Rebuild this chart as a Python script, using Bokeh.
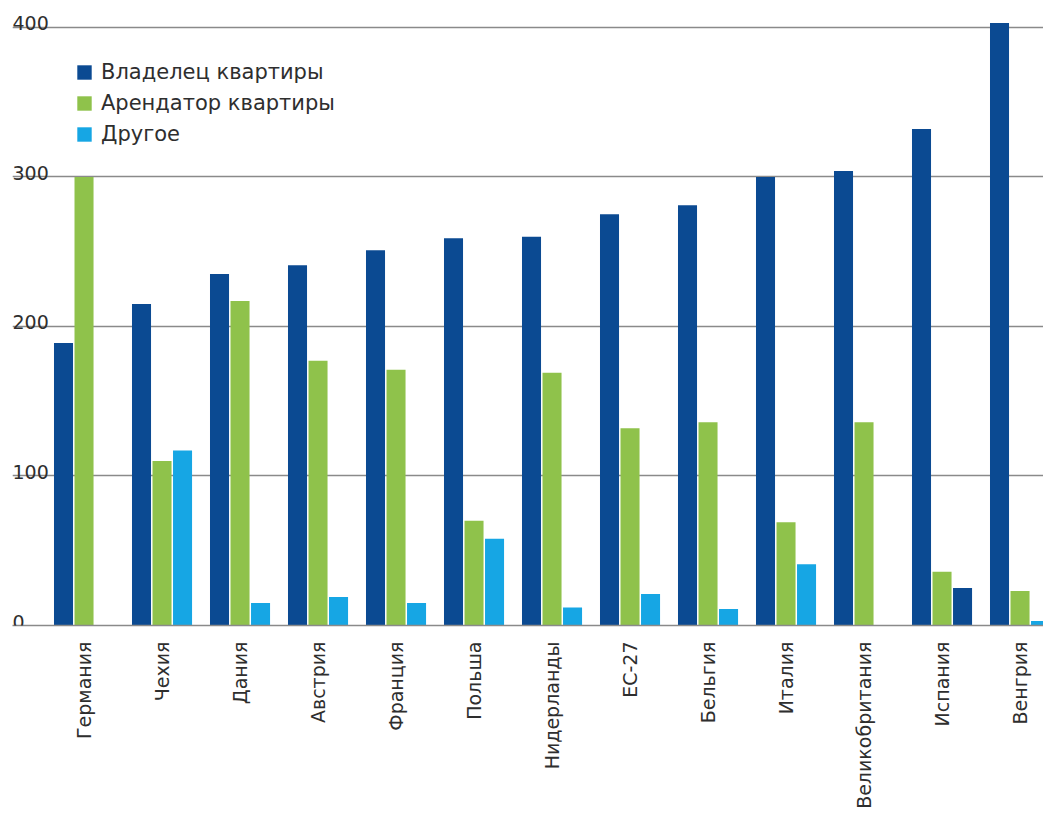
from bokeh.plotting import figure
from bokeh.models import (ColumnDataSource, FixedTicker, Grid, Legend, LegendItem,
                          Range1d, LabelSet)
from bokeh.core.properties import value
from bokeh.transform import dodge
from bokeh.embed import file_html
from bokeh.resources import INLINE

countries = ["Германия", "Чехия", "Дания", "Австрия", "Франция", "Польша",
             "Нидерланды", "ЕС-27", "Бельгия", "Италия", "Великобритания",
             "Испания", "Венгрия"]
owner = [189, 215, 235, 241, 251, 259, 260, 275, 281, 300, 304, 332, 403]
tenant = [300, 110, 217, 177, 171, 70, 169, 132, 136, 69, 136, 36, 23]
other = [0, 117, 15, 19, 15, 58, 12, 21, 11, 41, 0, 25, 3]
series_names = ["Владелец квартиры", "Арендатор квартиры", "Другое"]
y_ticks = [0, 100, 200, 300, 400]

C_OWNER = "#0b4a92"
C_TENANT = "#8fc24b"
C_OTHER = "#16a6e4"
other_colors = [C_OTHER] * len(countries)
other_colors[countries.index("Испания")] = C_OWNER  # as drawn in the source

idx = list(range(len(countries)))
src = ColumnDataSource(dict(idx=idx, owner=owner, tenant=tenant, other=other,
                            ocol=other_colors))

FONT = "DejaVu Sans"
TXT = "#2e2e2e"
GRID = "#8a8a8a"

x_start = -0.917
p = figure(width=1043, height=832, output_backend="svg", toolbar_location=None,
           x_range=Range1d(x_start, x_start + 1031 / 78.0),
           y_range=Range1d(0, 418), y_axis_location=None,
           min_border_left=12, min_border_right=0, min_border_top=0,
           min_border_bottom=207)
p.frame_width = 1031
p.frame_height = 625
p.outline_line_color = None
p.background_fill_color = "white"
p.xgrid.visible = False

p.add_layout(Grid(dimension=1, ticker=FixedTicker(ticks=y_ticks),
                  grid_line_color=GRID, grid_line_width=1.5))

W = 0.244
OFF = 0.263
r1 = p.vbar(x=dodge("idx", -OFF), top="owner", width=W, source=src,
            fill_color=C_OWNER, line_color=None)
r2 = p.vbar(x=dodge("idx", 0), top="tenant", width=W, source=src,
            fill_color=C_TENANT, line_color=None)
r3 = p.vbar(x=dodge("idx", OFF), top="other", width=W, source=src,
            fill_color="ocol", line_color=None)

ax = p.xaxis[0]
ax.ticker = FixedTicker(ticks=idx)
ax.major_label_overrides = {i: c for i, c in zip(idx, countries)}
ax.major_label_orientation = 3.14159265 / 2
ax.major_tick_line_color = None
ax.minor_tick_line_color = None
ax.axis_line_color = GRID
ax.axis_line_width = 1.5
ax.major_label_standoff = 10
ax.major_label_text_font = FONT
ax.major_label_text_font_size = "19px"
ax.major_label_text_color = TXT

ysrc = ColumnDataSource(dict(y=y_ticks, t=[str(v) for v in y_ticks]))
p.add_layout(LabelSet(x=x_start, y="y", text="t", source=ysrc,
                      text_baseline="bottom", text_align="left", y_offset=-3,
                      text_font=value(FONT), text_font_size=value("19px"),
                      text_color=TXT))

legend = Legend(items=[LegendItem(label=series_names[0], renderers=[r1]),
                       LegendItem(label=series_names[1], renderers=[r2]),
                       LegendItem(label=series_names[2], renderers=[r3], index=0)],
                location=(63, 479), padding=0, margin=0, spacing=7,
                glyph_width=18, glyph_height=18, label_height=20,
                label_standoff=8, border_line_color=None,
                background_fill_alpha=0,
                label_text_font=FONT, label_text_font_size="21px",
                label_text_color=TXT)
p.add_layout(legend)

open("out.html", "w").write(file_html(p, INLINE))
